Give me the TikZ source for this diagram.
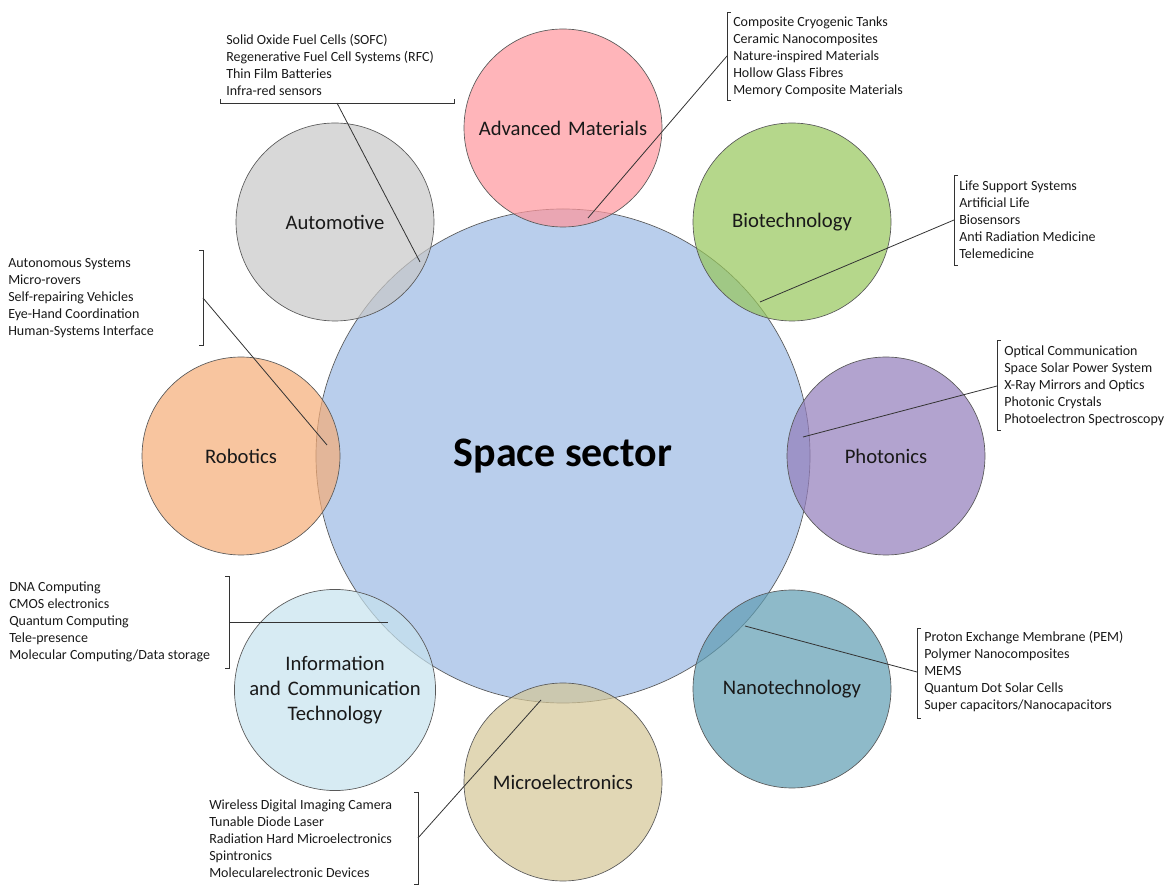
\documentclass[tikz,border=0pt]{standalone}
\usepackage{fontspec}
\setmainfont{Carlito}
\usetikzlibrary{positioning,calc}
\definecolor{sectorblue}{RGB}{185,206,236}
\definecolor{materialspink}{RGB}{255,150,156}
\definecolor{automotivegray}{RGB}{200,200,200}
\definecolor{biogreen}{RGB}{150,198,90}
\definecolor{roboorange}{RGB}{245,172,118}
\definecolor{photonpurple}{RGB}{146,124,186}
\definecolor{ictblue}{RGB}{198,226,238}
\definecolor{nanoteal}{RGB}{94,156,178}
\definecolor{microtan}{RGB}{212,198,150}

\begin{document}
\begin{tikzpicture}[x=0.75pt, y=0.75pt,
    field/.style={circle, draw=black!65, line width=0.5pt, minimum size=148.5pt, inner sep=0pt, fill opacity=0.7, text opacity=1, text width=142pt, align=center, text=black!90, font=\fontsize{15.5}{18.75}\selectfont},
    items/.style={anchor=west, align=left, inner sep=0pt, text=black!90, font=\fontsize{10.5}{12.75}\selectfont},
    bracket/.style={draw=black!80, line width=0.6pt},
    link/.style={draw=black!80, line width=0.6pt}]
    \useasboundingbox (0,0) rectangle (1168,886);

    % hub
    \node [circle, draw=black!65, line width=0.5pt, fill=sectorblue, minimum size=370.5pt, inner sep=0pt, font=\fontsize{31.5}{36}\selectfont\bfseries] (sector) at (563,430) {Space sector};

    % fields round the hub
    \node [field, fill=materialspink] (materials) at (563,758) {Advanced Materials};
    \node [field, fill=automotivegray] (automotive) at (335,664) {Automotive};
    \node [field, fill=biogreen] (biotech) at (792,664) {Biotechnology};
    \node [field, fill=roboorange] (robotics) at (241,430) {Robotics};
    \node [field, fill=photonpurple] (photonics) at (886,430) {Photonics};
    \node [field, fill=ictblue] (ict) at (335,196) {Information\\and Communication\\Technology};
    \node [field, fill=nanoteal] (nano) at (792,197) {Nanotechnology};
    \node [field, fill=microtan] (micro) at (563,104) {Microelectronics};

    % lists
    \node [items] (automotivelist) at (226,821) {Solid Oxide Fuel Cells (SOFC)\\Regenerative Fuel Cell Systems (RFC)\\Thin Film Batteries\\Infra-red sensors};
    \node [items] (materialslist) at (733,829) {Composite Cryogenic Tanks\\Ceramic Nanocomposites\\Nature-inspired Materials\\Hollow Glass Fibres\\Memory Composite Materials};
    \node [items] (biotechlist) at (959,666) {Life Support Systems\\Artificial Life\\Biosensors\\Anti Radiation Medicine\\Telemedicine};
    \node [items] (roboticslist) at (8,588) {Autonomous Systems\\Micro-rovers\\Self-repairing Vehicles\\Eye-Hand Coordination\\Human-Systems Interface};
    \node [items] (photonicslist) at (1004,500) {Optical Communication\\Space Solar Power System\\X-Ray Mirrors and Optics\\Photonic Crystals\\Photoelectron Spectroscopy};
    \node [items] (ictlist) at (9,264) {DNA Computing\\CMOS electronics\\Quantum Computing\\Tele-presence\\Molecular Computing/Data storage};
    \node [items] (nanolist) at (924,214) {Proton Exchange Membrane (PEM)\\Polymer Nanocomposites\\MEMS\\Quantum Dot Solar Cells\\Super capacitors/Nanocapacitors};
    \node [items] (microlist) at (209,47) {Wireless Digital Imaging Camera\\Tunable Diode Laser\\Radiation Hard Microelectronics\\Spintronics\\Molecularelectronic Devices};

    % brackets
    \draw [bracket] (220,787) -- (220,783) -- (454,783) -- (454,787);
    \draw [bracket] (731,874) -- (727,874) -- (727,786) -- (731,786);
    \draw [bracket] (958,711) -- (954,711) -- (954,621) -- (958,621);
    \draw [bracket] (199,636) -- (203,636) -- (203,541) -- (199,541);
    \draw [bracket] (1001,546) -- (997,546) -- (997,456) -- (1001,456);
    \draw [bracket] (225,310) -- (229,310) -- (229,218) -- (225,218);
    \draw [bracket] (921,258) -- (917,258) -- (917,168) -- (921,168);
    \draw [bracket] (414,94) -- (418,94) -- (418,2) -- (414,2);

    % connector ends
    \coordinate (automotivebr) at (337,783);
    \coordinate (automotivepin) at (420,624);
    \coordinate (materialsbr) at (727,830);
    \coordinate (materialspin) at (588,668);
    \coordinate (biotechbr) at (954,666);
    \coordinate (biotechpin) at (760,584);
    \coordinate (roboticsbr) at (203,588);
    \coordinate (roboticspin) at (327,441);
    \coordinate (photonicsbr) at (997,500);
    \coordinate (photonicspin) at (803,449);
    \coordinate (ictbr) at (229,264);
    \coordinate (ictpin) at (388,264);
    \coordinate (nanobr) at (917,214);
    \coordinate (nanopin) at (745,260);
    \coordinate (microbr) at (418,48);
    \coordinate (micropin) at (541,186);

    \draw [link] (automotivebr) -- (automotivepin);
    \draw [link] (materialsbr) -- (materialspin);
    \draw [link] (biotechbr) -- (biotechpin);
    \draw [link] (roboticsbr) -- (roboticspin);
    \draw [link] (photonicsbr) -- (photonicspin);
    \draw [link] (ictbr) -- (ictpin);
    \draw [link] (nanobr) -- (nanopin);
    \draw [link] (microbr) -- (micropin);
\end{tikzpicture}
\end{document}
